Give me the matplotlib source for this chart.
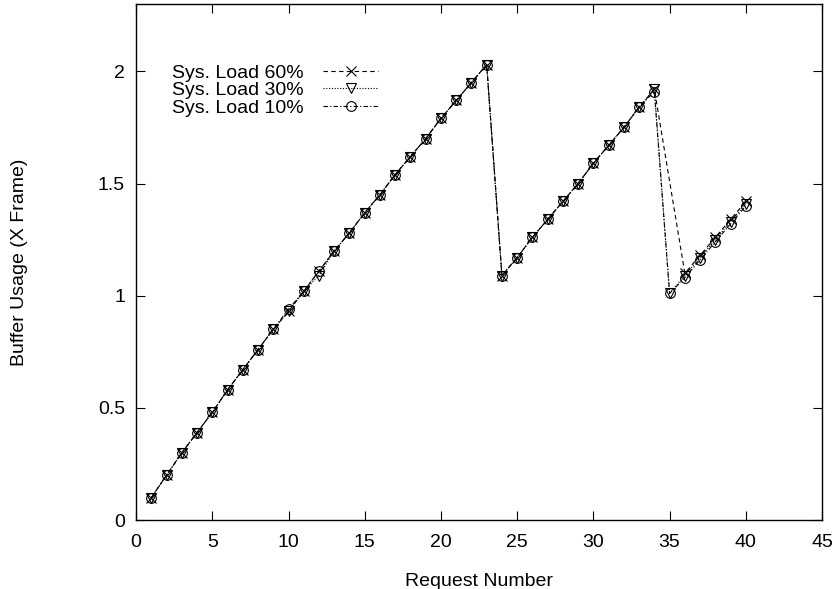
import matplotlib
matplotlib.use("Agg")
import matplotlib.pyplot as plt

plt.rcParams['font.family'] = ['Liberation Sans', 'DejaVu Sans']

# request numbers and buffer usage
base_x = list(range(1, 35))
base_y = [0.10, 0.20, 0.30, 0.39, 0.48, 0.58, 0.67, 0.76, 0.85, 0.93,
          1.02, 1.11, 1.20, 1.28, 1.37, 1.45, 1.54, 1.62, 1.70, 1.79,
          1.87, 1.95, 2.03, 1.09, 1.17, 1.26, 1.34, 1.42, 1.50, 1.59,
          1.67, 1.75, 1.84, 1.92]

load60_x = base_x + [36, 37, 38, 39, 40]
load60_y = base_y + [1.10, 1.18, 1.26, 1.34, 1.42]

load30_x = base_x + [35, 36, 37, 38, 39, 40]
load30_y = base_y[:11] + [1.09] + base_y[12:] + [1.01, 1.09, 1.17, 1.25, 1.33, 1.41]

load10_x = base_x + [35, 36, 37, 38, 39, 40]
load10_y = base_y[:9] + [0.94] + base_y[10:33] + [1.91] + [1.01, 1.08, 1.16, 1.24, 1.32, 1.40]

labels = ['Sys. Load 60%', 'Sys. Load 30%', 'Sys. Load 10%']
x_ticks = [0, 5, 10, 15, 20, 25, 30, 35, 40, 45]
y_ticks = [0, 0.5, 1, 1.5, 2]
y_tick_labels = ['0', '0.5', '1', '1.5', '2']

fig = plt.figure(figsize=(8.4, 5.89), dpi=100)
ax = fig.add_axes([0.162, 0.117, 0.8166, 0.8762])

lw = 0.8
ax.plot(load60_x, load60_y, color='black', linestyle=(0, (4, 3)), linewidth=lw,
        marker='x', markersize=7, markeredgewidth=0.8, label=labels[0])
ax.plot(load30_x, load30_y, color='black', linestyle=(0, (1, 1.5)), linewidth=lw,
        marker='v', markersize=7, markerfacecolor='none', markeredgewidth=0.8,
        label=labels[1])
ax.plot(load10_x, load10_y, color='black', linestyle=(0, (4, 2, 1, 2)), linewidth=lw,
        marker='o', markersize=7, markerfacecolor='none', markeredgewidth=0.8,
        label=labels[2])

ax.set_xlim(0, 45)
ax.set_ylim(0, 2.3)
ax.set_xticks(x_ticks)
ax.set_yticks(y_ticks)
ax.set_yticklabels(y_tick_labels)
ax.tick_params(direction='in', length=6.5, width=0.8, top=True, right=True,
               labelsize=14)
ax.tick_params(axis='x', pad=10)
ax.tick_params(axis='y', pad=8)
for s in ax.spines.values():
    s.set_linewidth(1.0)

ax.set_xlabel('Request Number', fontsize=14, labelpad=16)
ax.set_ylabel('Buffer Usage (X Frame)', fontsize=14)
ax.yaxis.set_label_coords(-0.158, 0.5)

ax.legend(loc='upper left', bbox_to_anchor=(0.033, 0.91), frameon=False,
          markerfirst=False, fontsize=14, handlelength=2.8, handletextpad=1.0,
          labelspacing=0.0, borderpad=0.2)

fig.savefig('out.png', dpi=100)
